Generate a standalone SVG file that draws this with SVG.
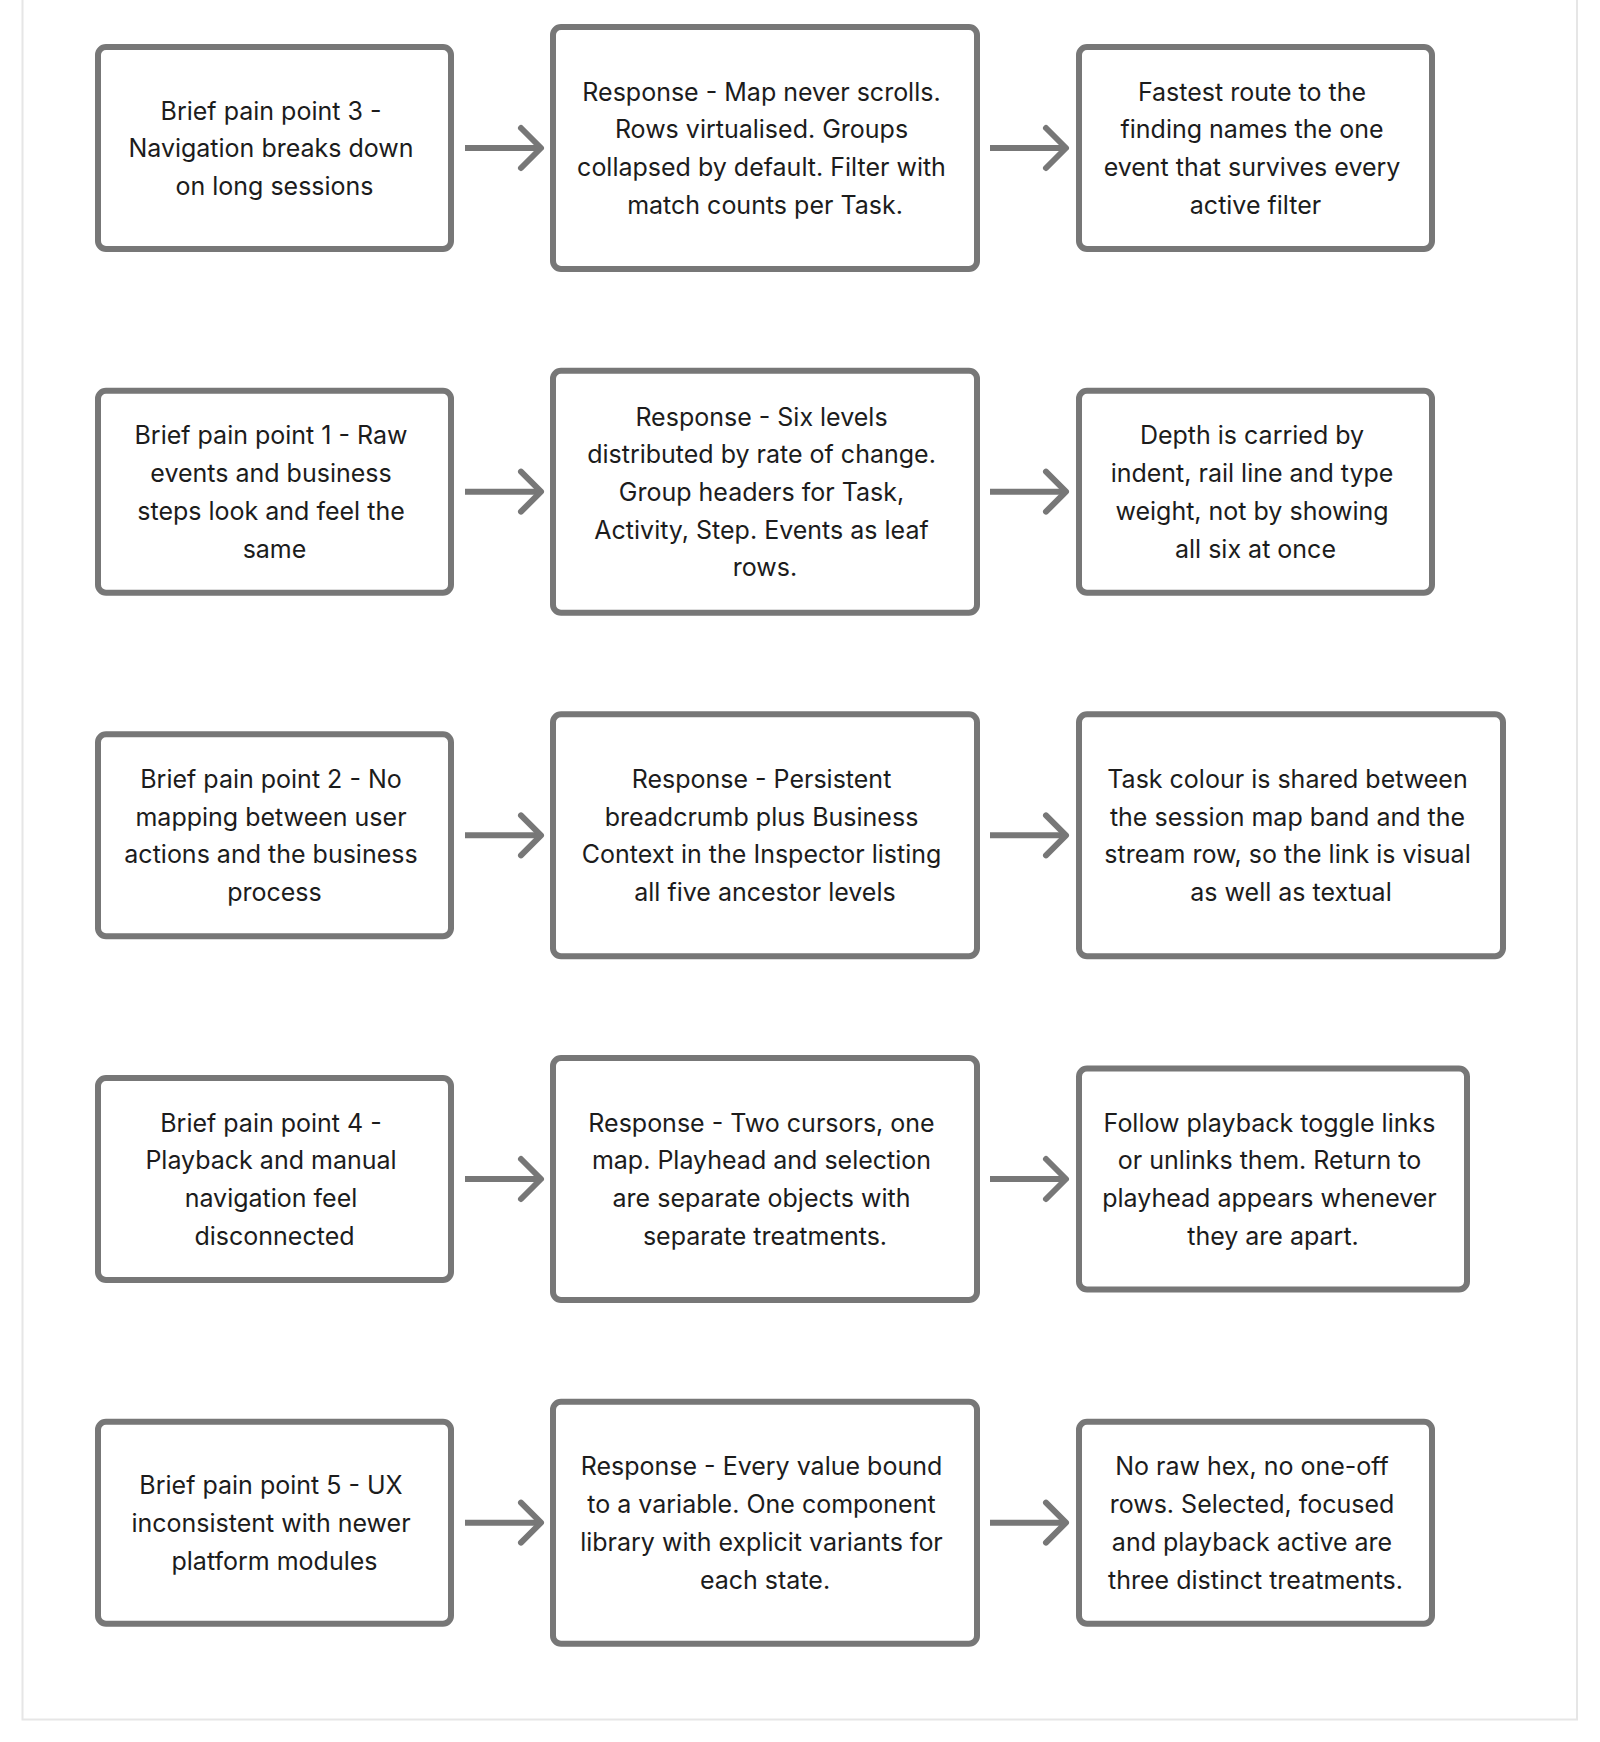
<svg xmlns="http://www.w3.org/2000/svg" width="1600" height="1742" viewBox="0 0 1600 1742">
<defs>
<style>
.box{fill:#ffffff;stroke:#777777;stroke-width:6}
.t{font-family:Inter,"Liberation Sans",sans-serif;font-size:25px;fill:#1c1c1c;text-anchor:middle}
.edge{stroke:#777777;stroke-width:6;fill:none}
.frame{fill:none;stroke:#e6e6e6;stroke-width:2}
</style>
<marker id="head" markerUnits="userSpaceOnUse" markerWidth="40" markerHeight="56" viewBox="0 0 40 56" refX="30" refY="28" orient="auto" style="overflow:visible">
<path d="M10 8 L30 28 L10 48" fill="none" stroke="#777777" stroke-width="6" stroke-linecap="round" stroke-linejoin="round"/>
</marker>
</defs>
<rect x="0" y="0" width="1600" height="1742" fill="#ffffff"/>
<rect class="frame" x="22.5" y="-20" width="1554.5" height="1739.5"/>

<g id="connectors">
<line class="edge" x1="465" y1="148" x2="541" y2="148" marker-end="url(#head)"/>
<line class="edge" x1="990" y1="148" x2="1066" y2="148" marker-end="url(#head)"/>
<line class="edge" x1="465" y1="491.67" x2="541" y2="491.67" marker-end="url(#head)"/>
<line class="edge" x1="990" y1="491.67" x2="1066" y2="491.67" marker-end="url(#head)"/>
<line class="edge" x1="465" y1="835.33" x2="541" y2="835.33" marker-end="url(#head)"/>
<line class="edge" x1="990" y1="835.33" x2="1066" y2="835.33" marker-end="url(#head)"/>
<line class="edge" x1="465" y1="1179" x2="541" y2="1179" marker-end="url(#head)"/>
<line class="edge" x1="990" y1="1179" x2="1066" y2="1179" marker-end="url(#head)"/>
<line class="edge" x1="465" y1="1522.67" x2="541" y2="1522.67" marker-end="url(#head)"/>
<line class="edge" x1="990" y1="1522.67" x2="1066" y2="1522.67" marker-end="url(#head)"/>
</g>

<g id="pain3">
<rect class="box" x="98" y="47" width="353" height="202" rx="8"/>
<text class="t"><tspan x="271" y="119.6">Brief pain point 3 -</tspan><tspan x="271" y="157.3">Navigation breaks down</tspan><tspan x="274.5" y="195">on long sessions</tspan></text>
</g>
<g id="resp3">
<rect class="box" x="553" y="27" width="424" height="242" rx="8"/>
<text class="t"><tspan x="761.5" y="100.75">Response - Map never scrolls.</tspan><tspan x="761.5" y="138.45">Rows virtualised. Groups</tspan><tspan x="761.5" y="176.15">collapsed by default. Filter with</tspan><tspan x="765" y="213.85">match counts per Task.</tspan></text>
</g>
<g id="out3">
<rect class="box" x="1079" y="47" width="353" height="202" rx="8"/>
<text class="t"><tspan x="1252" y="100.75">Fastest route to the</tspan><tspan x="1252" y="138.45">finding names the one</tspan><tspan x="1252" y="176.15">event that survives every</tspan><tspan x="1255.5" y="213.85">active filter</tspan></text>
</g>

<g id="pain1">
<rect class="box" x="98" y="390.67" width="353" height="202" rx="8"/>
<text class="t"><tspan x="271" y="444.42">Brief pain point 1 - Raw</tspan><tspan x="271" y="482.12">events and business</tspan><tspan x="271" y="519.82">steps look and feel the</tspan><tspan x="274.5" y="557.52">same</tspan></text>
</g>
<g id="resp1">
<rect class="box" x="553" y="370.67" width="424" height="242" rx="8"/>
<text class="t"><tspan x="761.5" y="425.57">Response - Six levels</tspan><tspan x="761.5" y="463.27">distributed by rate of change.</tspan><tspan x="761.5" y="500.97">Group headers for Task,</tspan><tspan x="761.5" y="538.67">Activity, Step. Events as leaf</tspan><tspan x="765" y="576.37">rows.</tspan></text>
</g>
<g id="out1">
<rect class="box" x="1079" y="390.67" width="353" height="202" rx="8"/>
<text class="t"><tspan x="1252" y="444.42">Depth is carried by</tspan><tspan x="1252" y="482.12">indent, rail line and type</tspan><tspan x="1252" y="519.82">weight, not by showing</tspan><tspan x="1255.5" y="557.52">all six at once</tspan></text>
</g>

<g id="pain2">
<rect class="box" x="98" y="734.33" width="353" height="202" rx="8"/>
<text class="t"><tspan x="271" y="788.08">Brief pain point 2 - No</tspan><tspan x="271" y="825.78">mapping between user</tspan><tspan x="271" y="863.48">actions and the business</tspan><tspan x="274.5" y="901.18">process</tspan></text>
</g>
<g id="resp2">
<rect class="box" x="553" y="714.33" width="424" height="242" rx="8"/>
<text class="t"><tspan x="761.5" y="788.08">Response - Persistent</tspan><tspan x="761.5" y="825.78">breadcrumb plus Business</tspan><tspan x="761.5" y="863.48">Context in the Inspector listing</tspan><tspan x="765" y="901.18">all five ancestor levels</tspan></text>
</g>
<g id="out2">
<rect class="box" x="1079" y="714.33" width="424" height="242" rx="8"/>
<text class="t"><tspan x="1287.5" y="788.08">Task colour is shared between</tspan><tspan x="1287.5" y="825.78">the session map band and the</tspan><tspan x="1287.5" y="863.48">stream row, so the link is visual</tspan><tspan x="1291" y="901.18">as well as textual</tspan></text>
</g>

<g id="pain4">
<rect class="box" x="98" y="1078" width="353" height="202" rx="8"/>
<text class="t"><tspan x="271" y="1131.75">Brief pain point 4 -</tspan><tspan x="271" y="1169.45">Playback and manual</tspan><tspan x="271" y="1207.15">navigation feel</tspan><tspan x="274.5" y="1244.85">disconnected</tspan></text>
</g>
<g id="resp4">
<rect class="box" x="553" y="1058" width="424" height="242" rx="8"/>
<text class="t"><tspan x="761.5" y="1131.75">Response - Two cursors, one</tspan><tspan x="761.5" y="1169.45">map. Playhead and selection</tspan><tspan x="761.5" y="1207.15">are separate objects with</tspan><tspan x="765" y="1244.85">separate treatments.</tspan></text>
</g>
<g id="out4">
<rect class="box" x="1079" y="1068.5" width="388" height="221" rx="8"/>
<text class="t"><tspan x="1269.5" y="1131.75">Follow playback toggle links</tspan><tspan x="1269.5" y="1169.45">or unlinks them. Return to</tspan><tspan x="1269.5" y="1207.15">playhead appears whenever</tspan><tspan x="1273" y="1244.85">they are apart.</tspan></text>
</g>

<g id="pain5">
<rect class="box" x="98" y="1421.67" width="353" height="202" rx="8"/>
<text class="t"><tspan x="271" y="1494.27">Brief pain point 5 - UX</tspan><tspan x="271" y="1531.97">inconsistent with newer</tspan><tspan x="274.5" y="1569.67">platform modules</tspan></text>
</g>
<g id="resp5">
<rect class="box" x="553" y="1401.67" width="424" height="242" rx="8"/>
<text class="t"><tspan x="761.5" y="1475.42">Response - Every value bound</tspan><tspan x="761.5" y="1513.12">to a variable. One component</tspan><tspan x="761.5" y="1550.82">library with explicit variants for</tspan><tspan x="765" y="1588.52">each state.</tspan></text>
</g>
<g id="out5">
<rect class="box" x="1079" y="1421.67" width="353" height="202" rx="8"/>
<text class="t"><tspan x="1252" y="1475.42">No raw hex, no one-off</tspan><tspan x="1252" y="1513.12">rows. Selected, focused</tspan><tspan x="1252" y="1550.82">and playback active are</tspan><tspan x="1255.5" y="1588.52">three distinct treatments.</tspan></text>
</g>
</svg>
